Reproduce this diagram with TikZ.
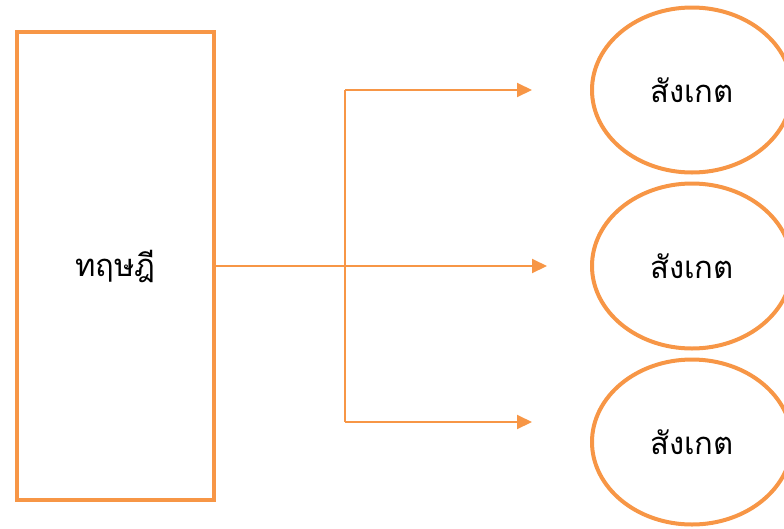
\documentclass[tikz,border=0pt]{standalone}
\usepackage{fontspec}
\newfontfamily\thaifont[Script=Thai]{Loma}
\usetikzlibrary{arrows.meta,shapes.geometric}
\definecolor{accent}{HTML}{F79646}
\tikzset{
  box/.style={draw=accent, line width=4pt, minimum width=197pt, minimum height=468pt, inner sep=0pt, font=\thaifont\fontsize{31}{36}\selectfont},
  obs/.style={draw=accent, line width=4pt, ellipse, minimum width=200pt, minimum height=165pt, inner sep=0pt, font=\thaifont\fontsize{31}{36}\selectfont},
  conn/.style={draw=accent, line width=2pt},
  arr/.style={conn, -{Triangle[length=15pt,width=14pt]}}
}
\begin{document}
\begin{tikzpicture}[x=1pt,y=-1pt]
\useasboundingbox (0,0) rectangle (784,528);
\node[box] (theory) at (115.5,266) {ทฤษฎี};
\node[obs] (o1) at (692,90) {สังเกต};
\node[obs] (o2) at (692,266) {สังเกต};
\node[obs] (o3) at (692,442) {สังเกต};
\coordinate (top) at (345,90);
\coordinate (bot) at (345,422);
\coordinate (t1) at (532,90);
\coordinate (t2) at (547,266);
\coordinate (t3) at (532,422);
\draw[arr] (theory.east) -- (t2);
\draw[conn] (top) -- (bot);
\draw[arr] (top) -- (t1);
\draw[arr] (bot) -- (t3);
\end{tikzpicture}
\end{document}
